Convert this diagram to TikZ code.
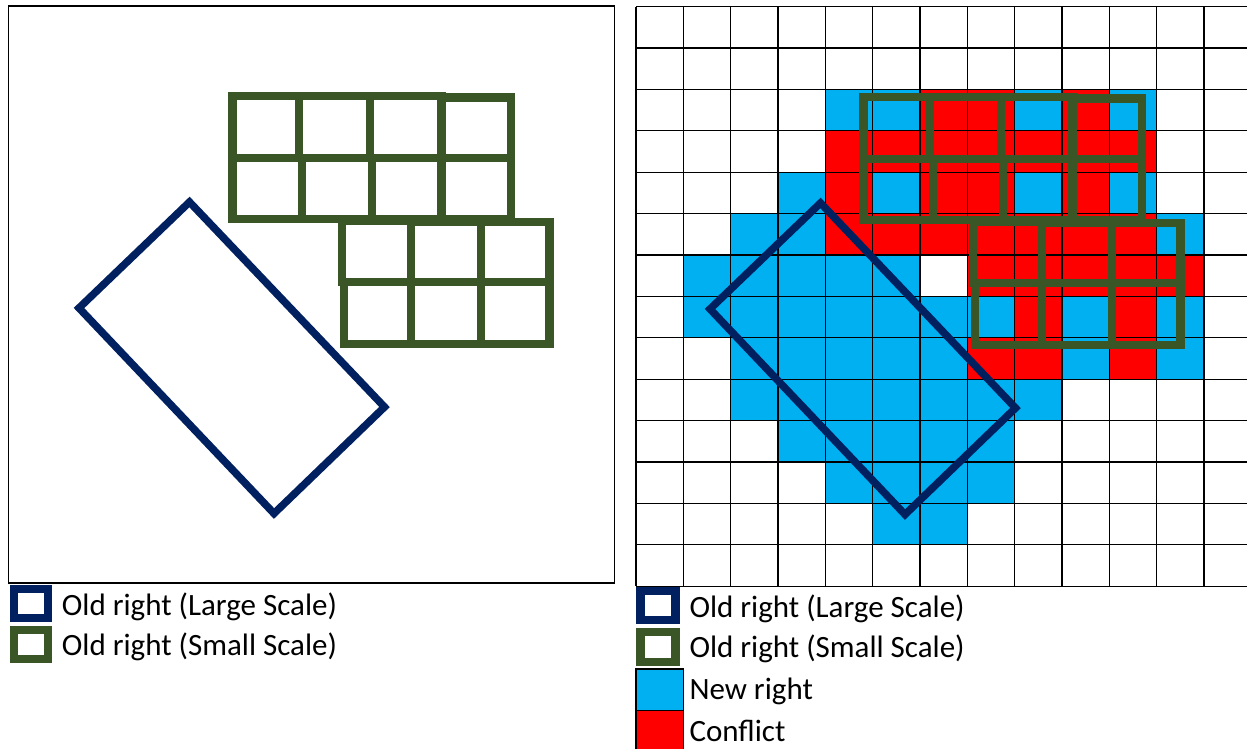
\documentclass[tikz,border=0pt]{standalone}
\usepackage{fontspec}
\setmainfont{Carlito}
\definecolor{oldlarge}{RGB}{0,32,96}
\definecolor{oldsmall}{RGB}{58,86,38}
\definecolor{newright}{RGB}{0,176,240}
\definecolor{conflictred}{RGB}{255,0,0}
\newcommand{\drawlargeright}{%
  \draw[large] (79,308) -- (189.5,202) -- (384.5,407) -- (274,513.5) -- cycle;}
\newcommand{\drawsmallrights}{%
  \draw[small] (232.5,96) rectangle (299,158);
  \draw[small] (299,96) rectangle (370,158);
  \draw[small] (370,96) rectangle (441.5,158);
  \draw[small] (441.5,97.5) rectangle (511,158);
  \draw[small] (232.5,158) rectangle (302,219);
  \draw[small] (302,158) rectangle (372,219);
  \draw[small] (372,158) rectangle (441.5,219);
  \draw[small] (441.5,158) rectangle (511,219);
  \draw[small] (342,220.5) rectangle (411,282);
  \draw[small] (411,222) rectangle (481,282);
  \draw[small] (481,222) rectangle (549.5,282);
  \draw[small] (344,282) rectangle (411,344);
  \draw[small] (411,282) rectangle (481,344);
  \draw[small] (481,282) rectangle (549.5,344);}
\begin{document}
\begin{tikzpicture}[x=1pt,y=-1pt,
  large/.style={draw=oldlarge, line width=7.5pt, line join=miter},
  small/.style={draw=oldsmall, line width=8.5pt, line join=miter},
  gridline/.style={draw=black, line width=1.2pt},
  legtext/.style={anchor=base west, inner sep=0pt, font=\fontsize{31}{37}\selectfont},
  cellblue/.style={fill=newright},
  cellred/.style={fill=conflictred}]
\useasboundingbox (0,0) rectangle (1247,748);
\fill[white] (0,0) rectangle (1247,748);

% ---------- left panel ----------
\draw[black, line width=1.2pt] (8.5,6) rectangle (614.5,583);
\drawlargeright
\drawsmallrights

% left legend
\draw[oldlarge, line width=8pt] (14,589) rectangle (48,618);
\draw[oldsmall, line width=8pt] (14,630) rectangle (48,659);
\node[legtext] (l1) at (61.7,615.7) {Old right (Large Scale)};
\node[legtext] (l2) at (61.7,655.7) {Old right (Small Scale)};

% ---------- right panel ----------
\foreach \c/\r in {4/2,5/2,8/2,10/2, 3/4,5/4,8/4,10/4, 2/5,3/5,11/5,
  1/6,2/6,3/6,4/6,5/6, 1/7,2/7,3/7,4/7,5/7,6/7,7/7,9/7,11/7,
  2/8,3/8,4/8,5/8,6/8,9/8,11/8, 2/9,3/9,4/9,5/9,6/9,7/9,8/9,
  3/10,4/10,5/10,6/10,7/10, 4/11,5/11,6/11,7/11, 5/12,6/12}
  \fill[cellblue] ({636+47.33*\c},{6.5+41.4*\r}) rectangle +(47.33,41.4);
\foreach \c/\r in {6/2,7/2,9/2, 4/3,5/3,6/3,7/3,8/3,9/3,10/3,
  4/4,6/4,7/4,9/4, 4/5,5/5,6/5,7/5,8/5,9/5,10/5,
  7/6,8/6,9/6,10/6,11/6, 8/7,10/7, 7/8,8/8,10/8}
  \fill[cellred] ({636+47.33*\c},{6.5+41.4*\r}) rectangle +(47.33,41.4);
\foreach \i in {0,...,12}
  \draw[gridline] ({636+47.33*\i},6.5) -- ({636+47.33*\i},586.1);
\foreach \j in {0,...,14}
  \draw[gridline] (636,{6.5+41.4*\j}) -- (1247,{6.5+41.4*\j});
\begin{scope}[shift={(631,1)}]
  \drawlargeright
  \drawsmallrights
\end{scope}

% right legend
\draw[oldlarge, line width=8.5pt] (640.5,591) rectangle (675.5,620);
\draw[oldsmall, line width=8.5pt] (640.5,632) rectangle (675.5,662);
\draw[fill=newright, draw=black, line width=1.2pt] (636,669) rectangle (683.33,710.3);
\draw[fill=conflictred, draw=black, line width=1.2pt] (636,710.3) rectangle (683.33,751.7);
\node[legtext] (r1) at (689.3,617.3) {Old right (Large Scale)};
\node[legtext] (r2) at (689.3,657.3) {Old right (Small Scale)};
\node[legtext] (r3) at (689.3,699.3) {New right};
\node[legtext] (r4) at (689.3,741.7) {Conflict};
\end{tikzpicture}
\end{document}
